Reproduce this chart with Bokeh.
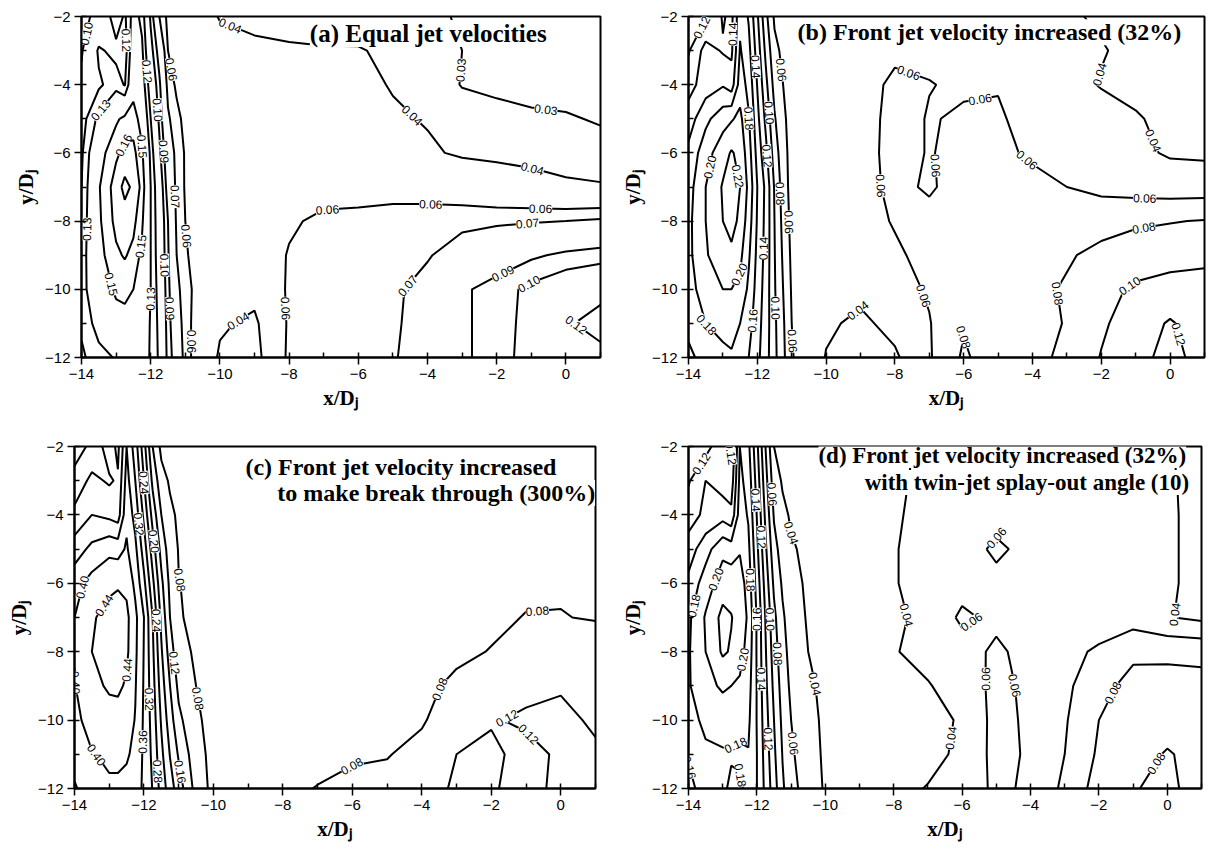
import math
import numpy as np
import contourpy
from bokeh.plotting import figure
from bokeh.layouts import column, row
from bokeh.models import Range1d, SingleIntervalTicker, Label, ColumnDataSource
from bokeh.core.properties import value
from bokeh.embed import file_html
from bokeh.resources import INLINE

# ---------------- data ----------------
X_NODES = [-14, -13.5, -13, -12.75, -12.5, -12.25, -12, -11.75, -11.5, -11.25, -11, -10.5, -10,
           -9, -8, -7, -6, -5, -4, -3, -2, -1, 0, 1]
Y_NODES = [-2, -3, -4, -5, -6, -7, -8, -9, -10, -11, -12]

LEVELS_A = [0.03, 0.04, 0.06, 0.07, 0.09, 0.10, 0.12, 0.13, 0.15, 0.16, 0.17]
Z_A = [
    [0.095, 0.105, 0.128, 0.118, 0.135, 0.127, 0.0975, 0.070, 0.057, 0.052, 0.050, 0.046, 0.039,
     0.035, 0.034, 0.034, 0.033, 0.032, 0.031, 0.0295, 0.027, 0.025, 0.025, 0.025],
    [0.0985, 0.122, 0.116, 0.114, 0.140, 0.132, 0.105, 0.084, 0.060, 0.055, 0.052, 0.049, 0.046,
     0.044, 0.042, 0.041, 0.041, 0.037, 0.034, 0.030, 0.027, 0.025, 0.025, 0.025],
    [0.103, 0.118, 0.126, 0.119, 0.145, 0.137, 0.113, 0.0925, 0.066, 0.058, 0.054, 0.050, 0.048,
     0.047, 0.046, 0.045, 0.044, 0.039, 0.036, 0.0295, 0.028, 0.026, 0.026, 0.025],
    [0.115, 0.133, 0.148, 0.153, 0.155, 0.145, 0.120, 0.0975, 0.072, 0.063, 0.057, 0.052, 0.050,
     0.049, 0.048, 0.048, 0.046, 0.042, 0.039, 0.035, 0.033, 0.032, 0.031, 0.029],
    [0.118, 0.145, 0.158, 0.163, 0.163, 0.152, 0.127, 0.103, 0.080, 0.066, 0.059, 0.054, 0.051,
     0.051, 0.050, 0.050, 0.050, 0.047, 0.042, 0.038, 0.037, 0.036, 0.035, 0.034],
    [0.120, 0.149, 0.165, 0.173, 0.168, 0.157, 0.130, 0.110, 0.084, 0.067, 0.059, 0.055, 0.053,
     0.053, 0.053, 0.054, 0.054, 0.055, 0.054, 0.052, 0.048, 0.045, 0.042, 0.041],
    [0.122, 0.148, 0.163, 0.165, 0.163, 0.152, 0.130, 0.112, 0.090, 0.068, 0.060, 0.055, 0.052,
     0.052, 0.058, 0.063, 0.064, 0.065, 0.066, 0.067, 0.068, 0.069, 0.070, 0.072],
    [0.124, 0.146, 0.158, 0.161, 0.157, 0.147, 0.130, 0.113, 0.0915, 0.070, 0.061, 0.055, 0.050,
     0.050, 0.061, 0.064, 0.066, 0.067, 0.069, 0.076, 0.082, 0.088, 0.0925, 0.095],
    [0.125, 0.142, 0.152, 0.153, 0.150, 0.143, 0.130, 0.115, 0.0935, 0.074, 0.063, 0.055, 0.048,
     0.045, 0.062, 0.064, 0.066, 0.068, 0.074, 0.088, 0.095, 0.103, 0.110, 0.115],
    [0.122, 0.135, 0.145, 0.146, 0.143, 0.138, 0.129, 0.117, 0.095, 0.078, 0.064, 0.052, 0.042,
     0.037, 0.062, 0.064, 0.066, 0.068, 0.076, 0.088, 0.095, 0.104, 0.118, 0.126],
    [0.118, 0.126, 0.131, 0.135, 0.138, 0.135, 0.129, 0.118, 0.0965, 0.082, 0.065, 0.050, 0.038,
     0.034, 0.063, 0.065, 0.067, 0.069, 0.076, 0.088, 0.095, 0.105, 0.112, 0.115],
]
LABELS_A = [
    (0.10, -13.86, -2.5), (0.12, -12.67, -2.7), (0.12, -12.25, -3.62), (0.06, -11.5, -3.57),
    (0.13, -13.45, -4.74), (0.10, -11.81, -4.74), (0.16, -12.93, -5.7), (0.15, -12.1, -5.8),
    (0.09, -11.6, -5.96), (0.07, -11.34, -7.28), (0.06, -11.08, -8.45), (0.13, -13.8, -8.24),
    (0.15, -12.4, -8.73), (0.10, -11.72, -9.3), (0.15, -13.1, -9.84), (0.13, -12.1, -10.28),
    (0.09, -11.52, -10.57), (0.06, -10.85, -11.53), (0.04, -9.6, -10.72), (0.06, -8.34, -10.57),
    (0.04, -9.7, -2.26), (0.03, -3.13, -3.57), (0.04, -4.78, -5.24), (0.03, -0.65, -5.27),
    (0.04, -1.02, -6.64), (0.06, -6.9, -7.57), (0.06, -3.91, -7.6), (0.06, -0.73, -7.51),
    (0.07, -1.1, -8.2), (0.07, -4.69, -9.8), (0.09, -1.98, -9.2), (0.10, -0.94, -10.08),
    (0.12, 0.22, -11.15),
]

LEVELS_B = [0.04, 0.06, 0.08, 0.10, 0.12, 0.14, 0.16, 0.18, 0.20, 0.22]
Z_B = [
    [0.110, 0.118, 0.142, 0.135, 0.175, 0.158, 0.123, 0.085, 0.057, 0.052, 0.050, 0.048, 0.046,
     0.048, 0.050, 0.052, 0.052, 0.050, 0.048, 0.042, 0.038, 0.036, 0.035, 0.035],
    [0.118, 0.148, 0.138, 0.136, 0.182, 0.166, 0.131, 0.095, 0.065, 0.056, 0.051, 0.049, 0.048,
     0.050, 0.056, 0.057, 0.055, 0.054, 0.049, 0.043, 0.041, 0.036, 0.035, 0.035],
    [0.132, 0.150, 0.158, 0.150, 0.190, 0.174, 0.139, 0.105, 0.073, 0.060, 0.051, 0.049, 0.049,
     0.052, 0.064, 0.0605, 0.058, 0.059, 0.052, 0.046, 0.039, 0.037, 0.036, 0.035],
    [0.150, 0.175, 0.192, 0.198, 0.205, 0.182, 0.146, 0.115, 0.082, 0.064, 0.052, 0.050, 0.050,
     0.052, 0.066, 0.059, 0.062, 0.062, 0.054, 0.050, 0.047, 0.041, 0.037, 0.036],
    [0.165, 0.192, 0.212, 0.222, 0.214, 0.189, 0.153, 0.125, 0.090, 0.068, 0.052, 0.050, 0.050,
     0.053, 0.066, 0.059, 0.065, 0.063, 0.058, 0.052, 0.048, 0.044, 0.038, 0.037],
    [0.172, 0.200, 0.222, 0.236, 0.220, 0.195, 0.160, 0.135, 0.098, 0.071, 0.052, 0.050, 0.050,
     0.054, 0.064, 0.058, 0.067, 0.067, 0.064, 0.060, 0.055, 0.052, 0.050, 0.050],
    [0.175, 0.200, 0.220, 0.228, 0.215, 0.190, 0.158, 0.134, 0.100, 0.074, 0.054, 0.050, 0.050,
     0.055, 0.061, 0.065, 0.068, 0.069, 0.070, 0.071, 0.073, 0.077, 0.079, 0.081],
    [0.175, 0.198, 0.212, 0.215, 0.205, 0.183, 0.155, 0.133, 0.101, 0.077, 0.056, 0.050, 0.049,
     0.052, 0.058, 0.064, 0.068, 0.070, 0.074, 0.078, 0.085, 0.090, 0.093, 0.095],
    [0.172, 0.190, 0.200, 0.200, 0.195, 0.176, 0.152, 0.131, 0.102, 0.080, 0.058, 0.050, 0.047,
     0.045, 0.053, 0.062, 0.067, 0.070, 0.075, 0.082, 0.094, 0.103, 0.107, 0.108],
    [0.166, 0.180, 0.186, 0.186, 0.180, 0.168, 0.148, 0.130, 0.104, 0.083, 0.060, 0.051, 0.043,
     0.036, 0.046, 0.059, 0.078, 0.068, 0.074, 0.081, 0.097, 0.110, 0.122, 0.110],
    [0.155, 0.168, 0.175, 0.178, 0.172, 0.160, 0.145, 0.128, 0.105, 0.085, 0.061, 0.052, 0.039,
     0.033, 0.037, 0.058, 0.083, 0.068, 0.075, 0.084, 0.101, 0.112, 0.128, 0.110],
]
LABELS_B = [
    (0.12, -13.8, -2.23), (0.14, -12.78, -2.52), (0.14, -12.2, -3.48), (0.06, -11.62, -3.6),
    (0.10, -11.9, -4.84), (0.18, -12.26, -4.99), (0.20, -13.5, -6.39), (0.22, -12.54, -6.68),
    (0.12, -11.82, -6.1), (0.08, -11.52, -7.2), (0.06, -11.12, -8.03), (0.14, -11.82, -8.8),
    (0.20, -12.69, -9.48), (0.18, -13.36, -10.93), (0.16, -12.0, -10.93), (0.10, -11.38, -10.55),
    (0.06, -10.69, -11.5), (0.04, -9.29, -10.35), (0.06, -8.48, -6.97), (0.06, -7.63, -3.73),
    (0.06, -7.05, -10.15), (0.06, -6.96, -6.38), (0.06, -5.6, -3.97), (0.06, -4.06, -6.09),
    (0.04, -2.6, -3.54), (0.04, -0.66, -5.71), (0.06, -0.74, -7.36), (0.08, -0.74, -8.32),
    (0.08, -3.48, -10.15), (0.10, -1.33, -9.67), (0.12, 0.3, -11.3), (0.08, -5.69, -11.3),
]

LEVELS_C = [0.08, 0.12, 0.16, 0.20, 0.24, 0.28, 0.32, 0.36, 0.40, 0.44]
Z_C = [
    [0.220, 0.250, 0.300, 0.270, 0.360, 0.300, 0.215, 0.120, 0.070, 0.068, 0.066, 0.064, 0.062,
     0.062, 0.062, 0.063, 0.064, 0.064, 0.065, 0.066, 0.067, 0.068, 0.068, 0.068],
    [0.255, 0.290, 0.275, 0.285, 0.375, 0.320, 0.240, 0.150, 0.095, 0.075, 0.070, 0.066, 0.064,
     0.063, 0.063, 0.064, 0.064, 0.065, 0.066, 0.067, 0.068, 0.069, 0.069, 0.069],
    [0.290, 0.320, 0.310, 0.300, 0.390, 0.345, 0.270, 0.185, 0.120, 0.088, 0.074, 0.068, 0.066,
     0.065, 0.064, 0.064, 0.065, 0.066, 0.067, 0.068, 0.069, 0.070, 0.070, 0.070],
    [0.340, 0.370, 0.390, 0.385, 0.405, 0.370, 0.300, 0.220, 0.145, 0.100, 0.078, 0.070, 0.068,
     0.066, 0.065, 0.065, 0.066, 0.067, 0.068, 0.069, 0.070, 0.071, 0.072, 0.072],
    [0.385, 0.415, 0.430, 0.435, 0.430, 0.390, 0.330, 0.250, 0.170, 0.110, 0.081, 0.071, 0.069,
     0.067, 0.066, 0.066, 0.067, 0.068, 0.069, 0.070, 0.072, 0.075, 0.077, 0.075],
    [0.400, 0.435, 0.455, 0.460, 0.450, 0.410, 0.360, 0.280, 0.190, 0.120, 0.083, 0.072, 0.070,
     0.068, 0.067, 0.067, 0.068, 0.069, 0.070, 0.072, 0.075, 0.081, 0.081, 0.078],
    [0.402, 0.440, 0.458, 0.462, 0.448, 0.408, 0.358, 0.288, 0.205, 0.140, 0.092, 0.075, 0.070,
     0.069, 0.068, 0.068, 0.069, 0.070, 0.072, 0.075, 0.081, 0.094, 0.100, 0.098],
    [0.398, 0.430, 0.445, 0.447, 0.435, 0.403, 0.356, 0.296, 0.220, 0.160, 0.110, 0.080, 0.069,
     0.069, 0.069, 0.069, 0.070, 0.071, 0.074, 0.085, 0.100, 0.113, 0.118, 0.112],
    [0.390, 0.415, 0.425, 0.425, 0.420, 0.398, 0.354, 0.304, 0.235, 0.178, 0.130, 0.086, 0.068,
     0.069, 0.069, 0.069, 0.070, 0.072, 0.078, 0.092, 0.118, 0.124, 0.125, 0.117],
    [0.378, 0.398, 0.406, 0.406, 0.404, 0.392, 0.352, 0.311, 0.250, 0.198, 0.155, 0.095, 0.068,
     0.070, 0.071, 0.072, 0.078, 0.079, 0.086, 0.120, 0.125, 0.112, 0.124, 0.123],
    [0.355, 0.385, 0.395, 0.395, 0.390, 0.385, 0.350, 0.318, 0.264, 0.218, 0.180, 0.105, 0.068,
     0.071, 0.074, 0.081, 0.084, 0.086, 0.105, 0.125, 0.122, 0.113, 0.125, 0.122],
]
LABELS_C = [
    (0.24, -12.82, -3.13), (0.32, -12.24, -4.28), (0.20, -11.76, -4.78), (0.08, -11.15, -5.93),
    (0.40, -13.83, -6.1), (0.44, -12.9, -6.8), (0.24, -11.67, -7.09), (0.12, -11.15, -8.33),
    (0.44, -12.53, -8.53), (0.40, -13.88, -8.9), (0.32, -11.76, -9.39), (0.08, -10.57, -9.39),
    (0.36, -11.9, -10.64), (0.40, -12.96, -10.73), (0.28, -11.61, -11.5), (0.16, -10.9, -11.5),
    (0.08, -0.67, -6.88), (0.08, -3.46, -9.1), (0.08, -6.05, -11.28), (0.12, -1.64, -9.77),
    (0.12, -0.64, -10.12),
]

LEVELS_D = [0.04, 0.06, 0.08, 0.10, 0.12, 0.14, 0.16, 0.18, 0.20, 0.22]
Z_D = [
    [0.105, 0.112, 0.135, 0.118, 0.180, 0.165, 0.125, 0.080, 0.040, 0.032, 0.030, 0.030, 0.030,
     0.031, 0.036, 0.043, 0.046, 0.047, 0.048, 0.048, 0.047, 0.046, 0.041, 0.035],
    [0.118, 0.140, 0.130, 0.128, 0.185, 0.172, 0.132, 0.088, 0.049, 0.038, 0.034, 0.032, 0.031,
     0.032, 0.037, 0.044, 0.047, 0.049, 0.050, 0.049, 0.048, 0.047, 0.042, 0.035],
    [0.130, 0.145, 0.152, 0.145, 0.190, 0.178, 0.139, 0.096, 0.058, 0.044, 0.038, 0.034, 0.032,
     0.033, 0.038, 0.045, 0.049, 0.052, 0.052, 0.050, 0.049, 0.048, 0.042, 0.036],
    [0.150, 0.172, 0.195, 0.190, 0.198, 0.185, 0.145, 0.104, 0.067, 0.051, 0.042, 0.036, 0.033,
     0.034, 0.039, 0.046, 0.050, 0.064, 0.053, 0.051, 0.050, 0.049, 0.042, 0.036],
    [0.165, 0.190, 0.210, 0.212, 0.210, 0.191, 0.152, 0.112, 0.076, 0.057, 0.046, 0.037, 0.034,
     0.035, 0.039, 0.046, 0.052, 0.054, 0.054, 0.052, 0.051, 0.050, 0.042, 0.036],
    [0.176, 0.202, 0.226, 0.221, 0.212, 0.197, 0.158, 0.119, 0.085, 0.063, 0.050, 0.038, 0.035,
     0.036, 0.038, 0.043, 0.064, 0.055, 0.055, 0.054, 0.053, 0.052, 0.041, 0.036],
    [0.178, 0.200, 0.223, 0.218, 0.207, 0.193, 0.158, 0.122, 0.090, 0.067, 0.053, 0.040, 0.036,
     0.037, 0.039, 0.045, 0.051, 0.064, 0.052, 0.056, 0.062, 0.075, 0.076, 0.075],
    [0.178, 0.194, 0.203, 0.200, 0.197, 0.188, 0.159, 0.125, 0.095, 0.071, 0.056, 0.043, 0.036,
     0.036, 0.037, 0.039, 0.047, 0.066, 0.055, 0.056, 0.072, 0.088, 0.087, 0.086],
    [0.172, 0.185, 0.188, 0.187, 0.186, 0.184, 0.159, 0.129, 0.100, 0.075, 0.060, 0.045, 0.037,
     0.035, 0.036, 0.037, 0.041, 0.067, 0.056, 0.058, 0.080, 0.092, 0.090, 0.090],
    [0.163, 0.176, 0.178, 0.178, 0.177, 0.179, 0.160, 0.132, 0.104, 0.079, 0.063, 0.048, 0.037,
     0.034, 0.035, 0.037, 0.042, 0.067, 0.057, 0.060, 0.083, 0.090, 0.078, 0.088],
    [0.152, 0.172, 0.176, 0.184, 0.183, 0.175, 0.160, 0.135, 0.109, 0.083, 0.067, 0.050, 0.038,
     0.034, 0.037, 0.0405, 0.045, 0.065, 0.056, 0.061, 0.090, 0.082, 0.072, 0.095],
]
LABELS_D = [
    (0.12, -13.77, -2.41), (0.12, -12.72, -2.61), (0.14, -12.09, -3.57), (0.06, -11.65, -3.4),
    (0.04, -11.36, -4.65), (0.12, -11.85, -4.65), (0.20, -13.39, -5.81), (0.18, -12.14, -5.9),
    (0.10, -11.45, -7.05), (0.18, -13.77, -6.68), (0.16, -12.03, -7.05), (0.08, -11.16, -8.05),
    (0.20, -12.46, -8.22), (0.14, -11.94, -8.8), (0.04, -10.58, -9.0), (0.18, -12.87, -10.17),
    (0.12, -11.6, -10.55), (0.06, -10.72, -10.66), (0.16, -13.77, -11.33), (0.18, -12.52, -11.62),
    (0.04, -7.44, -6.88), (0.06, -4.77, -4.06), (0.06, -5.7, -7.17), (0.06, -5.2, -8.8),
    (0.06, -4.05, -8.9), (0.04, -6.17, -10.55), (0.04, 0.01, -6.88), (0.08, -1.79, -9.1),
    (0.08, -0.08, -11.42),
]

TITLES_A = ["(a) Equal jet velocities"]
TITLES_B = ["(b) Front jet velocity increased (32%)"]
TITLES_C = ["(c) Front jet velocity increased", "to make break through (300%)"]
TITLES_D = ["(d) Front jet velocity increased (32%)", "with twin-jet splay-out angle (10)"]

X_LABEL = "x/D\u2c7c"
Y_LABEL = "y/D\u2c7c"


# ---------------- helpers ----------------
def contour_lines(z, levels):
    X, Y = np.meshgrid(np.array(X_NODES, float), np.array(Y_NODES, float))
    gen = contourpy.contour_generator(X, Y, np.array(z, float))
    return {lv: [np.asarray(a) for a in gen.lines(lv) if len(a) > 1] for lv in levels}


def snap(lines, lx, ly, sx, sy):
    best = None
    qx, qy = lx * sx, ly * sy
    for arr in lines:
        px = arr[:, 0] * sx
        py = arr[:, 1] * sy
        for i in range(len(arr) - 1):
            ax, ay, bx, by = px[i], py[i], px[i + 1], py[i + 1]
            dx, dy = bx - ax, by - ay
            L2 = dx * dx + dy * dy
            if L2 == 0:
                continue
            t = max(0.0, min(1.0, ((qx - ax) * dx + (qy - ay) * dy) / L2))
            cx, cy = ax + t * dx, ay + t * dy
            d = (cx - qx) ** 2 + (cy - qy) ** 2
            if best is None or d < best[0]:
                best = (d, cx / sx, cy / sy, math.atan2(dy, dx))
    return best


def make_panel(z, levels, labels, titles, title_pos, title_size, w, h, bl, br, bt, bb):
    p = figure(width=w, height=h,
               x_range=Range1d(-14, 1), y_range=Range1d(-12, -2),
               output_backend="svg", toolbar_location=None,
               min_border_left=bl, min_border_right=br,
               min_border_top=bt, min_border_bottom=bb)
    p.xgrid.visible = False
    p.ygrid.visible = False
    p.background_fill_color = "white"
    p.border_fill_color = "white"
    p.outline_line_color = "black"
    p.outline_line_width = 2
    p.outline_line_alpha = 1

    p.xaxis.ticker = SingleIntervalTicker(interval=2, num_minor_ticks=2)
    p.yaxis.ticker = SingleIntervalTicker(interval=2, num_minor_ticks=2)
    for ax, lab in ((p.xaxis[0], X_LABEL), (p.yaxis[0], Y_LABEL)):
        ax.axis_label = lab
        ax.axis_label_text_font = "Liberation Serif"
        ax.axis_label_text_font_style = "bold"
        ax.axis_label_text_font_size = "21px"
        ax.axis_label_text_color = "black"
        ax.axis_label_standoff = 4
        ax.major_label_text_font = "Liberation Sans"
        ax.major_label_text_font_size = "15px"
        ax.major_label_text_color = "black"
        ax.major_label_standoff = 4
        ax.axis_line_color = "black"
        ax.axis_line_width = 2
        ax.major_tick_line_color = "black"
        ax.major_tick_line_width = 1.5
        ax.major_tick_out = 7
        ax.major_tick_in = 0
        ax.minor_tick_line_color = "black"
        ax.minor_tick_line_width = 1.5
        ax.minor_tick_in = 5
        ax.minor_tick_out = 0

    lines = contour_lines(z, levels)
    xs, ys = [], []
    for lv in levels:
        for arr in lines[lv]:
            xs.append(arr[:, 0].tolist())
            ys.append(arr[:, 1].tolist())
    p.multi_line(xs=xs, ys=ys, line_color="black", line_width=2)

    fw = w - bl - br
    fh = h - bt - bb
    sx, sy = fw / 15.0, fh / 10.0
    lx, ly, lt, la = [], [], [], []
    for lv, x0, y0 in labels:
        b = snap(lines.get(lv, []), x0, y0, sx, sy)
        if b is None or b[0] > 45 ** 2:
            continue
        ang = b[3]
        if ang > math.pi / 2:
            ang -= math.pi
        elif ang < -math.pi / 2:
            ang += math.pi
        lx.append(b[1]); ly.append(b[2]); lt.append(f"{lv:.2f}"); la.append(ang)
    src = ColumnDataSource(dict(x=lx, y=ly, text=lt, angle=la))
    p.text(x="x", y="y", text="text", angle="angle", source=src,
           text_font=value("Liberation Sans"), text_font_size="12px",
           text_align="center", text_baseline="middle", text_color="black",
           background_fill_color="white")

    for t, (tx, ty) in zip(titles, title_pos):
        p.add_layout(Label(x=tx, y=ty, text=t, text_font="Liberation Serif",
                           text_font_style="bold", text_font_size=title_size,
                           text_baseline="middle", text_align="left", text_color="black",
                           background_fill_color="white", background_fill_alpha=1.0))
    return p


pa = make_panel(Z_A, LEVELS_A, LABELS_A, TITLES_A, [(-7.4, -2.5)], "25px",
                618, 416, 81, 18, 16, 57)
pb = make_panel(Z_B, LEVELS_B, LABELS_B, TITLES_B, [(-10.83, -2.46)], "24px",
                609, 416, 70, 23, 12, 59)
pc = make_panel(Z_C, LEVELS_C, LABELS_C, TITLES_C, [(-9.08, -2.61), (-8.16, -3.36)], "24px",
                618, 438, 74, 23, 30, 62)
pd = make_panel(Z_D, LEVELS_D, LABELS_D, TITLES_D, [(-10.2, -2.26), (-8.85, -3.05)], "23px",
                609, 438, 66, 26, 28, 66)

layout = column(row(pa, pb), row(pc, pd))
open("out.html", "w").write(file_html(layout, INLINE))
